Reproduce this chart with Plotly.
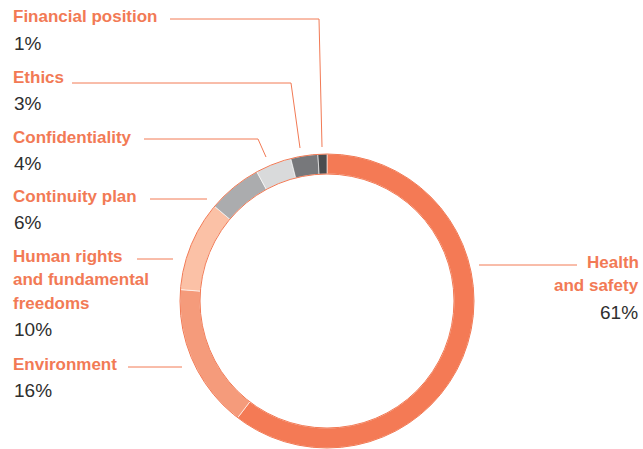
import plotly.graph_objects as go

W, H = 643, 449

# data, clockwise from 12 o'clock
categories = ['Health<br>and safety', 'Environment', 'Human rights<br>and fundamental<br>freedoms',
              'Continuity plan', 'Confidentiality', 'Ethics', 'Financial position']
shares = [61, 16, 10, 6, 4, 3, 1]
pct_labels = ['61%', '16%', '10%', '6%', '4%', '3%', '1%']
colors = ['#F47A55', '#F59B7B', '#FBC1A6', '#ABACAE', '#D9DADB', '#77787B', '#4B4C4E']

ORANGE = '#F27A55'
DARK = '#2E2E2E'


def px(x):
    return x / W


def py(y):
    return 1 - y / H


# donut geometry in pixels
cx, cy, r_out, r_in = 327, 301, 147, 127

fig = go.Figure()
fig.add_trace(go.Pie(
    values=shares, labels=categories, sort=False, direction='clockwise', rotation=0,
    hole=r_in / r_out, textinfo='none', hoverinfo='label+percent',
    marker=dict(colors=colors, line=dict(color='white', width=0.6)),
    domain=dict(x=[px(cx - r_out), px(cx + r_out)], y=[py(cy + r_out), py(cy - r_out)]),
    showlegend=False,
))

shapes = []
for r in (r_out, r_in):
    shapes.append(dict(type='circle', xref='paper', yref='paper',
                       x0=px(cx - r), x1=px(cx + r), y0=py(cy + r), y1=py(cy - r),
                       line=dict(color=ORANGE, width=1)))

# label placement: (x, y of first line, align, leader line points)
label_pos = {
    'Financial position': (12, 17, 'left', [(170, 19), (319, 19), (322, 147)]),
    'Ethics': (12, 77, 'left', [(72, 83), (291, 83), (300, 148)]),
    'Confidentiality': (12, 137, 'left', [(144, 139), (258, 139), (266, 157)]),
    'Continuity plan': (12, 196, 'left', [(150, 199), (207, 199)]),
    'Human rights<br>and fundamental<br>freedoms': (12, 256, 'left', [(137, 259), (173, 259)]),
    'Environment': (12, 364, 'left', [(128, 367), (182, 367)]),
    'Health<br>and safety': (640, 262, 'right', [(479, 265), (577, 265)]),
}

annotations = []
for cat, pct in zip(categories, pct_labels):
    x, y, align, pts = label_pos[cat]
    lines = cat.split('<br>')
    for i, line in enumerate(lines):
        annotations.append(dict(
            x=px(x), y=py(y + i * 23.5), xref='paper', yref='paper', text='<b>' + line + '</b>',
            showarrow=False, xanchor=align, yanchor='middle', xshift=-1 if align == 'left' else 1,
            font=dict(family='Liberation Sans', size=17, color=ORANGE)))
    annotations.append(dict(
        x=px(x), y=py(y + len(lines) * 23.5 + 3), xref='paper', yref='paper', text=pct,
        showarrow=False, xanchor=align, yanchor='middle',
        font=dict(family='Liberation Sans', size=19, color=DARK)))
    path = 'M ' + ' L '.join(f'{px(a)},{py(b)}' for a, b in pts)
    shapes.append(dict(type='path', xref='paper', yref='paper', path=path,
                       line=dict(color=ORANGE, width=1)))

fig.update_layout(
    width=W, height=H, margin=dict(l=0, r=0, t=0, b=0),
    paper_bgcolor='white', plot_bgcolor='white',
    shapes=shapes, annotations=annotations,
)

fig.write_html('out.html', config={'displayModeBar': False},
               post_script="document.body.style.margin='0';")
